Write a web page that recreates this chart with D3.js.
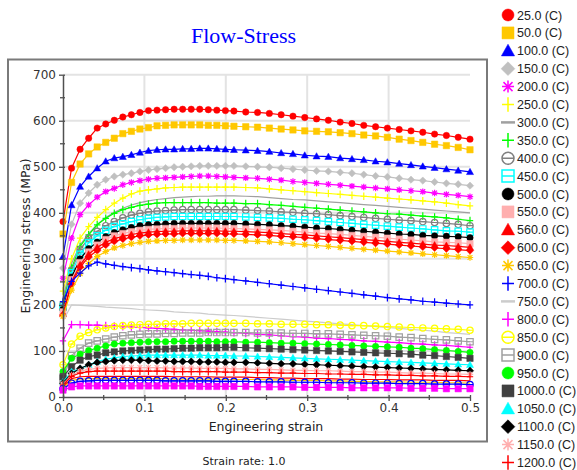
<!DOCTYPE html>
<html lang="en">
<head>
<meta charset="utf-8">
<title>Flow-Stress</title>
<script src="https://cdn.jsdelivr.net/npm/d3@7"></script>
<style>
  body { margin: 0; background: #fff; }
  text { font-family: "DejaVu Sans", sans-serif; }
</style>
</head>
<body>
<script>
// engineering strain at each computed point
var strain = [0,0.0105,0.021,0.0315,0.042,0.0525,0.063,0.0735,0.084,0.0945,0.105,
  0.1155,0.126,0.1365,0.147,0.1575,0.168,0.1785,0.189,0.1995,0.21,
  0.2245,0.239,0.2535,0.268,0.2825,0.297,0.3115,0.326,0.3405,0.355,0.3695,0.384,0.3985,0.413,0.4275,0.442,0.4565,0.471,0.4855,0.5];

// temperatures (C); the legend only has room for the first 26
var temps = [25,50,100,150,200,250,300,350,400,450,500,550,560,600,650,700,750,800,850,900,950,1000,1050,1100,1150,1200,1250,1300,1350,1400];
var legendCount = 26;

// engineering stress (MPa), one array per temperature
var s25  = [381,497,538,562,584,593,601,608,613,618,622, 623,624,625,625,625,625,624,623,622,621, 619,618,616,613,610,607,604,601,597,594,590,587,584,581,578,575,571,568,564,560];
var s50  = [354,466,506,528,543,553,562,572,577,582,585, 589,590,591,591,591,591,590,590,589,588, 587,586,584,582,580,578,577,576,574,572,569,567,564,560,557,553,549,546,542,537];
var s100 = [305,417,457,479,497,512,519,522,526,531,535, 537,538,538,539,539,540,540,539,538,537, 536,535,533,530,528,525,523,522,519,517,515,512,510,507,504,501,498,495,492,489];
var s150 = [280,375,421,443,461,472,479,483,486,490,493, 495,497,499,500,501,502,502,502,502,502, 501,500,499,497,495,493,491,490,488,486,483,480,478,475,472,470,467,464,462,459];
var s200 = [258,345,396,417,434,446,453,461,466,470,473, 475,476,477,478,479,480,480,479,478,477, 476,475,473,471,468,466,464,462,460,458,456,454,452,450,448,446,443,440,438,435];
var s250 = [230,300,345,370,390,407,421,432,441,447,450, 452,454,455,456,456,456,456,456,456,456, 455,454,452,450,448,446,444,442,440,438,436,434,432,430,428,426,424,421,418,415];
var s300 = [215,290,330,355,375,390,401,410,417,422,426, 429,431,433,434,435,436,436,437,437,437, 436,435,433,431,429,428,426,424,422,420,418,416,414,412,410,408,406,404,402,400];
var s350 = [205,280,327,352,374,388,399,407,412,416,419, 421,422,422,422,422,422,422,421,421,421, 420,420,418,416,414,412,410,408,406,404,402,400,398,397,395,393,391,389,386,383];
var s400 = [200,275,320,345,360,372,381,389,395,399,402, 404,405,406,407,407,407,407,407,407,407, 406,405,404,402,401,399,398,396,394,392,390,388,386,384,383,381,379,377,375,372];
var s450 = [195,270,310,335,350,362,370,376,381,385,388, 390,391,392,392,392,392,392,392,392,392, 391,390,389,388,386,385,383,381,379,377,375,373,371,369,367,365,363,361,360,358];
var s500 = [190,260,300,322,336,348,357,363,368,372,374, 375,376,377,377,377,377,377,377,377,377, 376,375,374,372,371,369,367,366,364,362,360,358,356,354,353,351,350,349,348,346];
var s550 = [185,255,292,315,330,342,350,355,359,362,364, 365,366,366,367,367,367,367,367,366,366, 365,364,363,362,360,358,356,355,353,351,349,347,345,343,341,339,337,336,335,333];
var s560 = [180,250,287,310,325,336,344,349,353,356,358, 359,360,360,361,361,361,361,361,360,360, 359,358,357,355,353,352,350,348,346,344,342,340,338,336,334,332,330,329,327,325];
var s600 = [178,245,282,304,318,330,338,343,347,350,352, 353,354,354,355,355,355,355,355,354,354, 353,352,351,349,348,346,344,342,340,338,336,334,332,330,328,326,324,322,320,318];
var s650 = [175,232,268,290,305,316,324,329,333,336,338, 339,340,340,341,341,341,341,341,340,340, 339,338,337,335,333,331,329,327,325,323,321,319,317,315,313,311,309,307,305,303];
var s700 = [207,251,269,285,293,289,286,283,281,279,276, 274,272,270,268,266,264,262,259,257,255, 252,249,246,243,240,237,234,231,228,225,222,219,216,213,211,208,206,204,202,200];
var s750 = [165,200,199,198,197,195,194,193,192,190,189, 188,187,185,184,183,182,180,179,178,177, 175,173,171,169,167,165,163,161,159,157,155,153,151,149,147,145,143,140,138,136];
var s800 = [122,157,157,156,156,155,154,153,152,151,150, 149,148,147,146,145,144,143,142,141,140, 138,136,135,133,131,130,128,127,125,124,122,121,119,118,116,115,113,112,110,108];
var s850 = [70,115,132,140,146,150,153,155,156,157,158, 158,159,159,159,160,160,160,160,160,160, 160,159,159,158,158,158,157,157,156,155,155,154,153,152,151,150,149,148,147,145];
var s900 = [40,90,106,117,122,126,130,133,135,136,137, 137,138,138,139,139,139,140,140,140,140, 140,139,139,139,138,138,137,137,136,135,134,133,132,130,129,127,125,124,122,120];
var s950 = [55,84,93,101,106,111,115,117,118,119,120, 120,120,121,121,121,121,121,120,120,120, 119,119,118,117,117,116,115,114,113,112,111,110,109,108,106,105,103,101,99,97];
var s1000 = [44,66,80,88,91,96,98,100,101,102,103, 104,104,105,106,106,107,107,107,108,108, 107,106,105,104,103,102,101,100,99,98,97,96,95,94,93,91,90,88,86,84];
var s1050 = [33,55,62,70,77,82,85,88,89,90,91, 91,91,91,91,91,91,90,90,90,89, 89,88,87,86,85,84,83,82,81,80,79,78,77,76,75,74,73,72,71,70];
var s1100 = [30,51,62,70,75,77,79,80,80,80,79, 78,78,77,77,77,76,76,76,75,75, 75,74,73,72,72,71,70,69,68,67,66,65,64,63,62,61,60,59,58,57];
var s1150 = [28,48,56,60,62,63,64,64,64,64,64, 64,63,63,63,63,62,62,62,62,61, 61,60,60,59,58,58,57,57,56,55,55,54,54,53,52,52,51,50,50,49];
var s1200 = [26,45,52,55,56,56,56,56,56,56,56, 56,56,55,55,55,55,55,55,54,54, 54,53,53,52,52,51,51,50,50,49,49,48,48,47,47,46,46,45,45,44];
var s1250 = [22,40,44,45,45,45,45,45,45,45,45, 45,45,44,44,44,44,44,43,43,43, 43,42,42,41,41,40,40,40,39,39,38,38,38,37,37,37,36,36,36,35];
var s1300 = [20,36,39,40,40,40,40,40,40,40,40, 40,40,39,39,39,39,39,39,38,38, 38,38,37,37,36,36,36,35,35,34,34,33,33,33,32,32,32,31,31,30];
var s1350 = [18,30,34,35,36,36,36,36,36,36,36, 36,35,35,35,35,35,35,34,34,34, 34,33,33,33,32,32,32,31,31,31,30,30,30,29,29,29,28,28,28,27];
var s1400 = [15,22,24,24,24,24,24,24,24,24,24, 24,24,24,24,24,23,23,23,23,23, 23,22,22,22,22,21,21,21,21,20,20,20,20,20,19,19,19,18,18,18];

var stressSeries = [s25,s50,s100,s150,s200,s250,s300,s350,s400,s450,s500,s550,s560,s600,s650,
  s700,s750,s800,s850,s900,s950,s1000,s1050,s1100,s1150,s1200,s1250,s1300,s1350,s1400];

// tick values
var xTicks = [0, 0.1, 0.2, 0.3, 0.4, 0.5];
var xMinor = [0.05, 0.15, 0.25, 0.35, 0.45];
var yTicks = [0, 100, 200, 300, 400, 500, 600, 700];
var yMinor = [50, 150, 250, 350, 450, 550, 650];

// styles (Java colour set)
var colors = ["#ff0000","#ffc800","#0000ff","#c0c0c0","#ff00ff","#ffff00","#a0a0a0","#00ff00","#808080","#00ffff",
  "#000000","#ffafaf","#ff0000","#ff0000","#ffc800","#0000ff","#cccccc","#ff00ff","#ffff00","#a0a0a0",
  "#00ff00","#404040","#00ffff","#000000","#ffafaf","#ff0000","#ff0000","#ffc800","#0000ff","#ff00ff"];
var shapes = ["circle","square","triangle","diamond","star","plus","none","plus","ocircle","osquare",
  "circle","square","triangle","diamond","star","plus","none","plus","ocircle","osquare",
  "circle","square","triangle","diamond","star","plus","none","none","ocircle","square"];

var width = 577, height = 470;
var svg = d3.select("body").append("svg")
  .attr("width", width)
  .attr("height", height);

// outer frame
svg.append("rect")
  .attr("x", 8).attr("y", 59.5)
  .attr("width", 479).attr("height", 382)
  .attr("fill", "#fff")
  .attr("stroke", "#7a7a7a")
  .attr("stroke-width", 2);

// title
svg.append("text")
  .attr("x", 243.5).attr("y", 43)
  .attr("text-anchor", "middle")
  .style("font-family", "'Liberation Serif', serif")
  .style("font-size", "22px")
  .attr("fill", "#0000ff")
  .text("Flow-Stress");

var xScale = d3.scaleLinear().domain([0, 0.5]).range([63, 470]);
var yScale = d3.scaleLinear().domain([0, 700]).range([397, 74.7]);

// grid
var grid = svg.append("g");
grid.selectAll(".hg").data(yTicks.slice(1)).enter().append("line")
  .attr("x1", 63).attr("x2", 470)
  .attr("y1", function(d) { return yScale(d); })
  .attr("y2", function(d) { return yScale(d); })
  .attr("stroke", "#e3e3e3").attr("stroke-width", 2);
grid.selectAll(".vg").data(xTicks.slice(1, 5)).enter().append("line")
  .attr("y1", yScale(0)).attr("y2", yScale(700))
  .attr("x1", function(d) { return xScale(d); })
  .attr("x2", function(d) { return xScale(d); })
  .attr("stroke", "#e3e3e3").attr("stroke-width", 2);

// marker path builder
function markerPath(type, s) {
  switch (type) {
    case "circle":
    case "ocircle":
      var p = "M" + (-s) + ",0A" + s + "," + s + " 0 1,0 " + s + ",0A" + s + "," + s + " 0 1,0 " + (-s) + ",0Z";
      if (type == "ocircle") p += "M" + (-s) + ",0H" + s;
      return p;
    case "square":
    case "osquare":
      var q = "M" + (-s) + "," + (-s) + "H" + s + "V" + s + "H" + (-s) + "Z";
      if (type == "osquare") q += "M" + (-s) + ",0H" + s;
      return q;
    case "triangle":
      return "M0," + (-s * 1.1) + "L" + (s * 1.1) + "," + (s * 0.85) + "L" + (-s * 1.1) + "," + (s * 0.85) + "Z";
    case "diamond":
      return "M0," + (-s * 1.15) + "L" + (s * 1.15) + ",0L0," + (s * 1.15) + "L" + (-s * 1.15) + ",0Z";
    case "star":
      var d = s * 0.75;
      return "M" + (-s) + ",0H" + s + "M0," + (-s) + "V" + s +
        "M" + (-d) + "," + (-d) + "L" + d + "," + d + "M" + (-d) + "," + d + "L" + d + "," + (-d);
    case "plus":
      return "M" + (-s) + ",0H" + s + "M0," + (-s * 1.2) + "V" + (s * 1.2);
  }
  return "";
}
function isFilled(type) {
  return type == "circle" || type == "square" || type == "triangle" || type == "diamond";
}

var line = d3.line()
  .x(function(d) { return xScale(d[0]); })
  .y(function(d) { return yScale(d[1]); });

var plot = svg.append("g");
stressSeries.forEach(function(vals, i) {
  var pts = strain.map(function(e, j) { return [e, vals[j]]; });
  var g = plot.append("g");
  g.append("path")
    .attr("d", line(pts))
    .attr("fill", "none")
    .attr("stroke", colors[i])
    .attr("stroke-width", 1.2);
  if (shapes[i] != "none") {
    g.selectAll("path.m").data(pts).enter().append("path")
      .attr("class", "m")
      .attr("transform", function(d) { return "translate(" + xScale(d[0]) + "," + yScale(d[1]) + ")"; })
      .attr("d", markerPath(shapes[i], 3.2))
      .attr("fill", isFilled(shapes[i]) ? colors[i] : "none")
      .attr("stroke", colors[i])
      .attr("stroke-width", isFilled(shapes[i]) ? 0.5 : 1.2);
  }
});

// axes
var yAxis = d3.axisLeft(yScale).tickValues(yTicks).tickSize(4).tickSizeOuter(0).tickPadding(3);
var xAxis = d3.axisBottom(xScale).tickValues(xTicks).tickSize(4).tickSizeOuter(0).tickPadding(2)
  .tickFormat(d3.format(".1f"));

var gy = svg.append("g").attr("transform", "translate(63,0)").call(yAxis);
var gx = svg.append("g").attr("transform", "translate(0,397)").call(xAxis);
[gx, gy].forEach(function(a) {
  a.select(".domain").attr("stroke", "#505050").attr("stroke-width", 1.5);
  a.selectAll(".tick line").attr("stroke", "#505050").attr("stroke-width", 1.3);
  a.selectAll("text").style("font-size", "12px").attr("fill", "#333");
});
gy.selectAll(".tick line").attr("x2", 2).attr("x1", -4);
gx.selectAll(".tick line").attr("y1", -2).attr("y2", 4);

svg.append("g").selectAll("line").data(yMinor).enter().append("line")
  .attr("x1", 60).attr("x2", 65)
  .attr("y1", function(d) { return yScale(d); })
  .attr("y2", function(d) { return yScale(d); })
  .attr("stroke", "#505050").attr("stroke-width", 1.3);
svg.append("g").selectAll("line").data(xMinor).enter().append("line")
  .attr("y1", 395).attr("y2", 400)
  .attr("x1", function(d) { return xScale(d); })
  .attr("x2", function(d) { return xScale(d); })
  .attr("stroke", "#505050").attr("stroke-width", 1.3);

// axis titles
svg.append("text")
  .attr("x", 266).attr("y", 431)
  .attr("text-anchor", "middle")
  .style("font-size", "12.5px").attr("fill", "#222")
  .text("Engineering strain");
svg.append("text")
  .attr("transform", "translate(30,236) rotate(-90)")
  .attr("text-anchor", "middle")
  .style("font-size", "12.5px").attr("fill", "#222")
  .text("Engineering stress (MPa)");
svg.append("text")
  .attr("x", 244).attr("y", 465)
  .attr("text-anchor", "middle")
  .style("font-size", "11px").attr("fill", "#222")
  .text("Strain rate: 1.0");

// legend (only the entries that fit the window)
var legend = svg.append("g");
temps.slice(0, legendCount).forEach(function(t, i) {
  var g = legend.append("g").attr("transform", "translate(508," + (15 + i * 17.9) + ")");
  if (shapes[i] == "none") {
    g.append("line").attr("x1", -7).attr("x2", 7)
      .attr("stroke", colors[i]).attr("stroke-width", 2.5);
  } else {
    g.append("path")
      .attr("d", markerPath(shapes[i], 6))
      .attr("fill", isFilled(shapes[i]) ? colors[i] : "none")
      .attr("stroke", colors[i])
      .attr("stroke-width", isFilled(shapes[i]) ? 0.5 : 1.5);
  }
  g.append("text")
    .attr("x", 9).attr("dy", "0.36em")
    .style("font-family", "'Liberation Sans', Arial, sans-serif")
    .style("font-size", "12.5px").attr("fill", "#222")
    .text(t.toFixed(1) + " (C)");
});
</script>
</body>
</html>
